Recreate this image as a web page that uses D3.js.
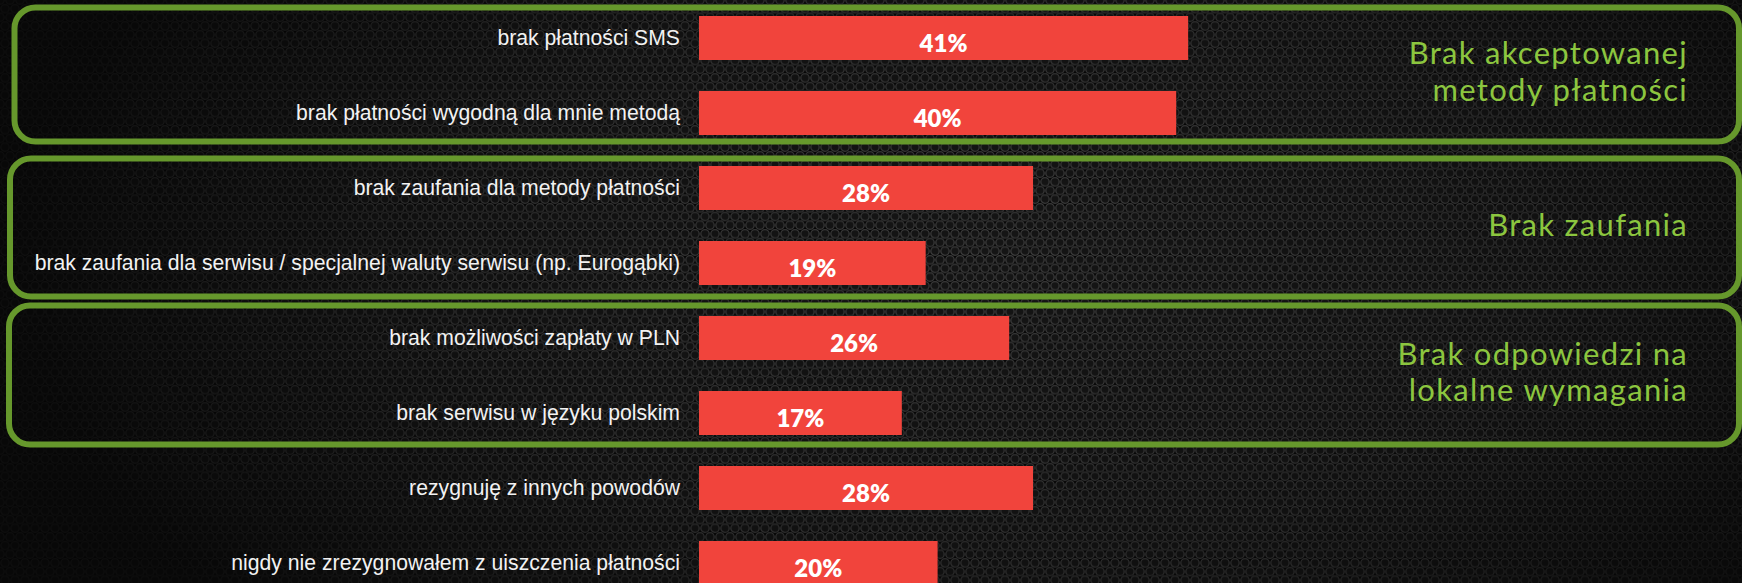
<!DOCTYPE html>
<html>
<head>
<meta charset="utf-8">
<script src="https://cdn.jsdelivr.net/npm/d3@7/dist/d3.min.js"></script>
<style>
  html, body { margin: 0; padding: 0; background: #000; overflow: hidden; }
  svg { display: block; }
</style>
</head>
<body>
<svg id="chart" width="1742" height="583"></svg>
<script>
// Reasons for abandoning a payment (share of respondents, %)
const categories = [
  "brak płatności SMS",
  "brak płatności wygodną dla mnie metodą",
  "brak zaufania dla metody płatności",
  "brak zaufania dla serwisu / specjalnej waluty serwisu (np. Eurogąbki)",
  "brak możliwości zapłaty w PLN",
  "brak serwisu w języku polskim",
  "rezygnuję z innych powodów",
  "nigdy nie zrezygnowałem z uiszczenia płatności"
];
const values = [41, 40, 28, 19, 26, 17, 28, 20];

// Reason groups: title lines and the first/last category each one covers
const groupTitles = [
  ["Brak akceptowanej", "metody płatności"],
  ["Brak zaufania"],
  ["Brak odpowiedzi na", "lokalne wymagania"]
];
const groupFirst = [0, 2, 4];
const groupLast = [1, 3, 5];

// Layout
const W = 1742, H = 583;
const barColor = "#f1443c";
const frameColor = "#66982c";
const titleColor = "#8cc63f";
const boxLeft = [14.5, 10, 9];
const boxRight = 1739;
const boxPadTop = [8.5, 7.5, 10.5];
const boxPadBottom = [6.5, 11.5, 9.5];

const svg = d3.select("#chart");
const defs = svg.append("defs");

// Honeycomb-like mesh texture
const pat = defs.append("pattern")
  .attr("id", "mesh")
  .attr("patternUnits", "userSpaceOnUse")
  .attr("width", 10).attr("height", 17.32);
[[0, 0], [10, 0], [5, 8.66], [0, 17.32], [10, 17.32]].forEach(([cx, cy]) => {
  pat.append("circle").attr("cx", cx).attr("cy", cy).attr("r", 4.2)
    .attr("fill", "#151515").attr("stroke", "#3c3c3c").attr("stroke-width", 1.3);
});

// Vignette: mesh fades out toward the edges
const rg = defs.append("radialGradient")
  .attr("id", "fade").attr("gradientUnits", "userSpaceOnUse")
  .attr("cx", 1000).attr("cy", 260).attr("r", 1000)
  .attr("gradientTransform", "translate(1000,260) scale(1,0.55) translate(-1000,-260)");
rg.append("stop").attr("offset", "0%").attr("stop-color", "#fff").attr("stop-opacity", 1);
rg.append("stop").attr("offset", "55%").attr("stop-color", "#fff").attr("stop-opacity", 0.75);
rg.append("stop").attr("offset", "100%").attr("stop-color", "#fff").attr("stop-opacity", 0.15);
defs.append("mask").attr("id", "fadeMask")
  .append("rect").attr("width", W).attr("height", H).attr("fill", "url(#fade)");

svg.append("rect").attr("width", W).attr("height", H).attr("fill", "#060606");
svg.append("rect").attr("width", W).attr("height", H)
  .attr("fill", "url(#mesh)").attr("mask", "url(#fadeMask)");

// Scales
const y = d3.scaleBand()
  .domain(categories)
  .range([-15, 616])
  .padding(31 / 75);

const x = d3.scaleLinear()
  .domain([0, 100])
  .range([699, 1892]);

// Group frames and titles
groupTitles.forEach((lines, g) => {
  const top = y(categories[groupFirst[g]]) - boxPadTop[g];
  const bottom = y(categories[groupLast[g]]) + y.bandwidth() + boxPadBottom[g];
  svg.append("rect")
    .attr("x", boxLeft[g]).attr("y", top)
    .attr("width", boxRight - boxLeft[g]).attr("height", bottom - top)
    .attr("rx", 21).attr("ry", 21)
    .attr("fill", "none")
    .attr("stroke", frameColor).attr("stroke-width", 6);

  const mid = (top + bottom) / 2;
  const lh = 36.5;
  const t = svg.append("text")
    .attr("text-anchor", "end")
    .attr("font-family", "Lato, 'Open Sans', sans-serif")
    .attr("font-size", 31)
    .attr("letter-spacing", 1.3)
    .attr("fill", titleColor);
  lines.forEach((line, i) => {
    t.append("tspan")
      .attr("x", 1688)
      .attr("y", mid + 8 - (lines.length - 1) * lh / 2 + i * lh)
      .text(line);
  });
});

// Category axis (labels only)
const axis = svg.append("g")
  .attr("transform", `translate(${x(0)},0)`)
  .call(d3.axisLeft(y).tickSize(0).tickPadding(19));
axis.select(".domain").remove();
axis.selectAll("text")
  .attr("font-family", "'Liberation Sans', Arial, sans-serif")
  .attr("font-size", 21.2)
  .attr("fill", "#f2f2f2");

// Bars
const rows = categories.map((c, i) => ({ c, v: values[i] }));
svg.append("g").selectAll("rect")
  .data(rows)
  .join("rect")
  .attr("x", x(0))
  .attr("y", d => y(d.c))
  .attr("width", d => x(d.v) - x(0))
  .attr("height", y.bandwidth())
  .attr("fill", barColor);

// Value labels
svg.append("g").selectAll("text")
  .data(rows)
  .join("text")
  .attr("x", d => (x(0) + x(d.v)) / 2)
  .attr("y", d => y(d.c) + 36)
  .attr("text-anchor", "middle")
  .attr("font-family", "Lato, 'Open Sans', sans-serif")
  .attr("font-weight", 800)
  .attr("font-size", 24)
  .attr("fill", "#ffffff")
  .text(d => d.v + "%");
</script>
</body>
</html>
